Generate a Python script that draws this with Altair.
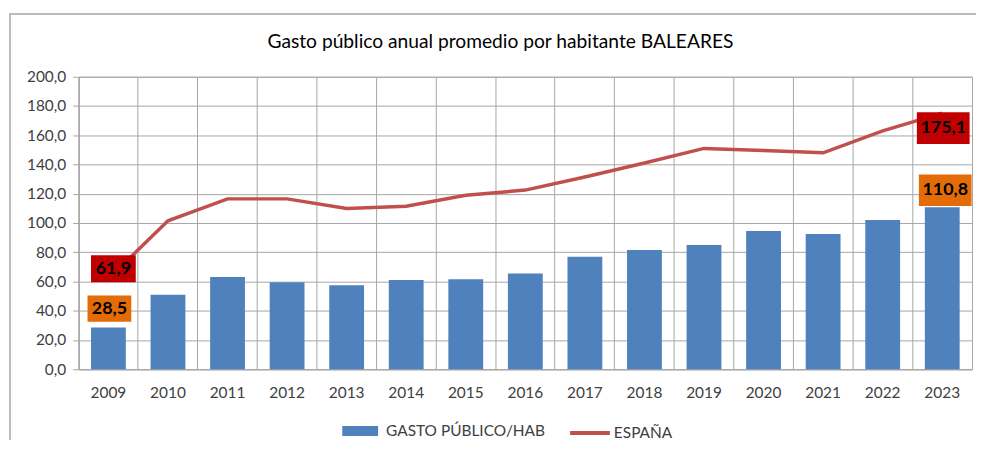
import altair as alt
import pandas as pd

years = [str(y) for y in range(2009, 2024)]
gasto = [28.5, 51.0, 63.0, 59.5, 57.5, 61.0, 61.5, 65.5, 77.0, 81.5, 85.0, 94.5, 92.5, 102.0, 110.8]
espana = [61.9, 101.5, 116.5, 116.5, 110.0, 111.5, 119.0, 122.5, 131.5, 141.0, 151.0, 149.5, 148.0, 163.0, 175.1]
serie_bar = "GASTO PÚBLICO/HAB"
serie_line = "ESPAÑA"
title_text = "Gasto público anual promedio por habitante BALEARES"
y_ticks = [0, 20, 40, 60, 80, 100, 120, 140, 160, 180, 200]

df = pd.DataFrame({"year": years, "gasto": gasto, "espana": espana})
df["sb"] = serie_bar
df["sl"] = serie_line

FONT = "Lato"
GRID = "#A6A6A6"
W, H = 898, 294

xaxis = alt.Axis(labelAngle=0, ticks=False, grid=True, bandPosition=0,
                 gridColor=GRID, domainColor=GRID, labelFontSize=15.5,
                 labelColor="#404040", labelFont=FONT, labelPadding=16)
x = alt.X("year:N", title=None, scale=alt.Scale(paddingInner=0, paddingOuter=0), axis=xaxis)
yscale = alt.Scale(domain=[0, 200], nice=False)
yaxis = alt.Axis(values=y_ticks, gridColor=GRID, domainColor=GRID, tickColor=GRID,
                 tickSize=6, labelFontSize=15.5, labelColor="#404040", labelFont=FONT,
                 labelOverlap=False,
                 labelExpr="replace(format(datum.value, '.1f'), '.', ',')", labelPadding=7)


def Y(field):
    return alt.Y(f"{field}:Q", title=None, scale=yscale, axis=yaxis)


frame = alt.Chart(pd.DataFrame({"a": [0]})).mark_rect(
    stroke=GRID, strokeWidth=1.5, fillOpacity=0, fill="white"
).encode(x=alt.value(-69), x2=alt.value(W + 100), y=alt.value(-63), y2=alt.value(H + 120))

title = alt.Chart(pd.DataFrame({"t": [title_text]})).mark_text(
    fontSize=19.3, font=FONT, color="black", align="center", baseline="middle"
).encode(x=alt.value(424), y=alt.value(-35), text="t:N")

base = alt.Chart(df)

bars = base.mark_bar(width=35).encode(
    x=x,
    y=Y("gasto"),
    color=alt.Color("sb:N", scale=alt.Scale(domain=[serie_bar], range=["#4F81BD"]),
                    legend=alt.Legend(title=None, orient="none", legendX=265, legendY=338,
                                      symbolType="M-1,-0.28L1,-0.28L1,0.28L-1,0.28Z",
                                      symbolSize=1296, symbolStrokeWidth=0,
                                      labelFontSize=15.5, labelColor="#404040", labelFont=FONT,
                                      labelOffset=8)),
)

line = base.mark_line(strokeWidth=3.5).encode(
    x=x,
    y=Y("espana"),
    stroke=alt.Stroke("sl:N", scale=alt.Scale(domain=[serie_line], range=["#C0504D"]),
                      legend=alt.Legend(title=None, orient="none", legendX=492, legendY=336,
                                        symbolType="stroke", symbolSize=1600,
                                        symbolStrokeWidth=4, labelFontSize=15.5,
                                        labelColor="#404040", labelFont=FONT, labelOffset=2)),
)

first = df.iloc[[0]]
last = df.iloc[[-1]]

box_shape = "M-1,-0.6L1,-0.6L1,0.6L-1,0.6Z"


def box(data, field, color, dx, dy, size):
    return alt.Chart(data).mark_point(shape=box_shape, filled=True, opacity=1, color=color,
                                       size=size, xOffset=dx, yOffset=dy).encode(
        x=x, y=Y(field))


labels = []
for data, field, color, dx, dy, size in [
    (first, "espana", "#C00000", 5, -10, 45 * 45),
    (first, "gasto", "#E36C09", 1, -19, 44 * 44),
    (last, "espana", "#C00000", 1, 15, 53 * 53),
    (last, "gasto", "#E36C09", 3, -17, 53 * 53),
]:
    labels.append(box(data, field, color, dx, dy, size))
    labels.append(
        alt.Chart(data).transform_calculate(
            t=f"replace(format(datum.{field}, '.1f'), '.', ',')"
        ).mark_text(fontSize=18, fontWeight="bold", color="black", font=FONT,
                    dx=dx, dy=dy).encode(x=x, y=Y(field), text="t:N")
    )

chart = alt.layer(frame, title, bars, line, *labels).properties(
    width=W, height=H,
    autosize=alt.AutoSizeParams(type="none"),
    padding={"left": 71, "top": 68, "right": 4, "bottom": 70},
).configure_view(stroke=GRID).configure_axis(gridWidth=1).configure_axisY(labelOverlap=False)

chart.save("out.html", embed_options={"renderer": "svg", "actions": False})
